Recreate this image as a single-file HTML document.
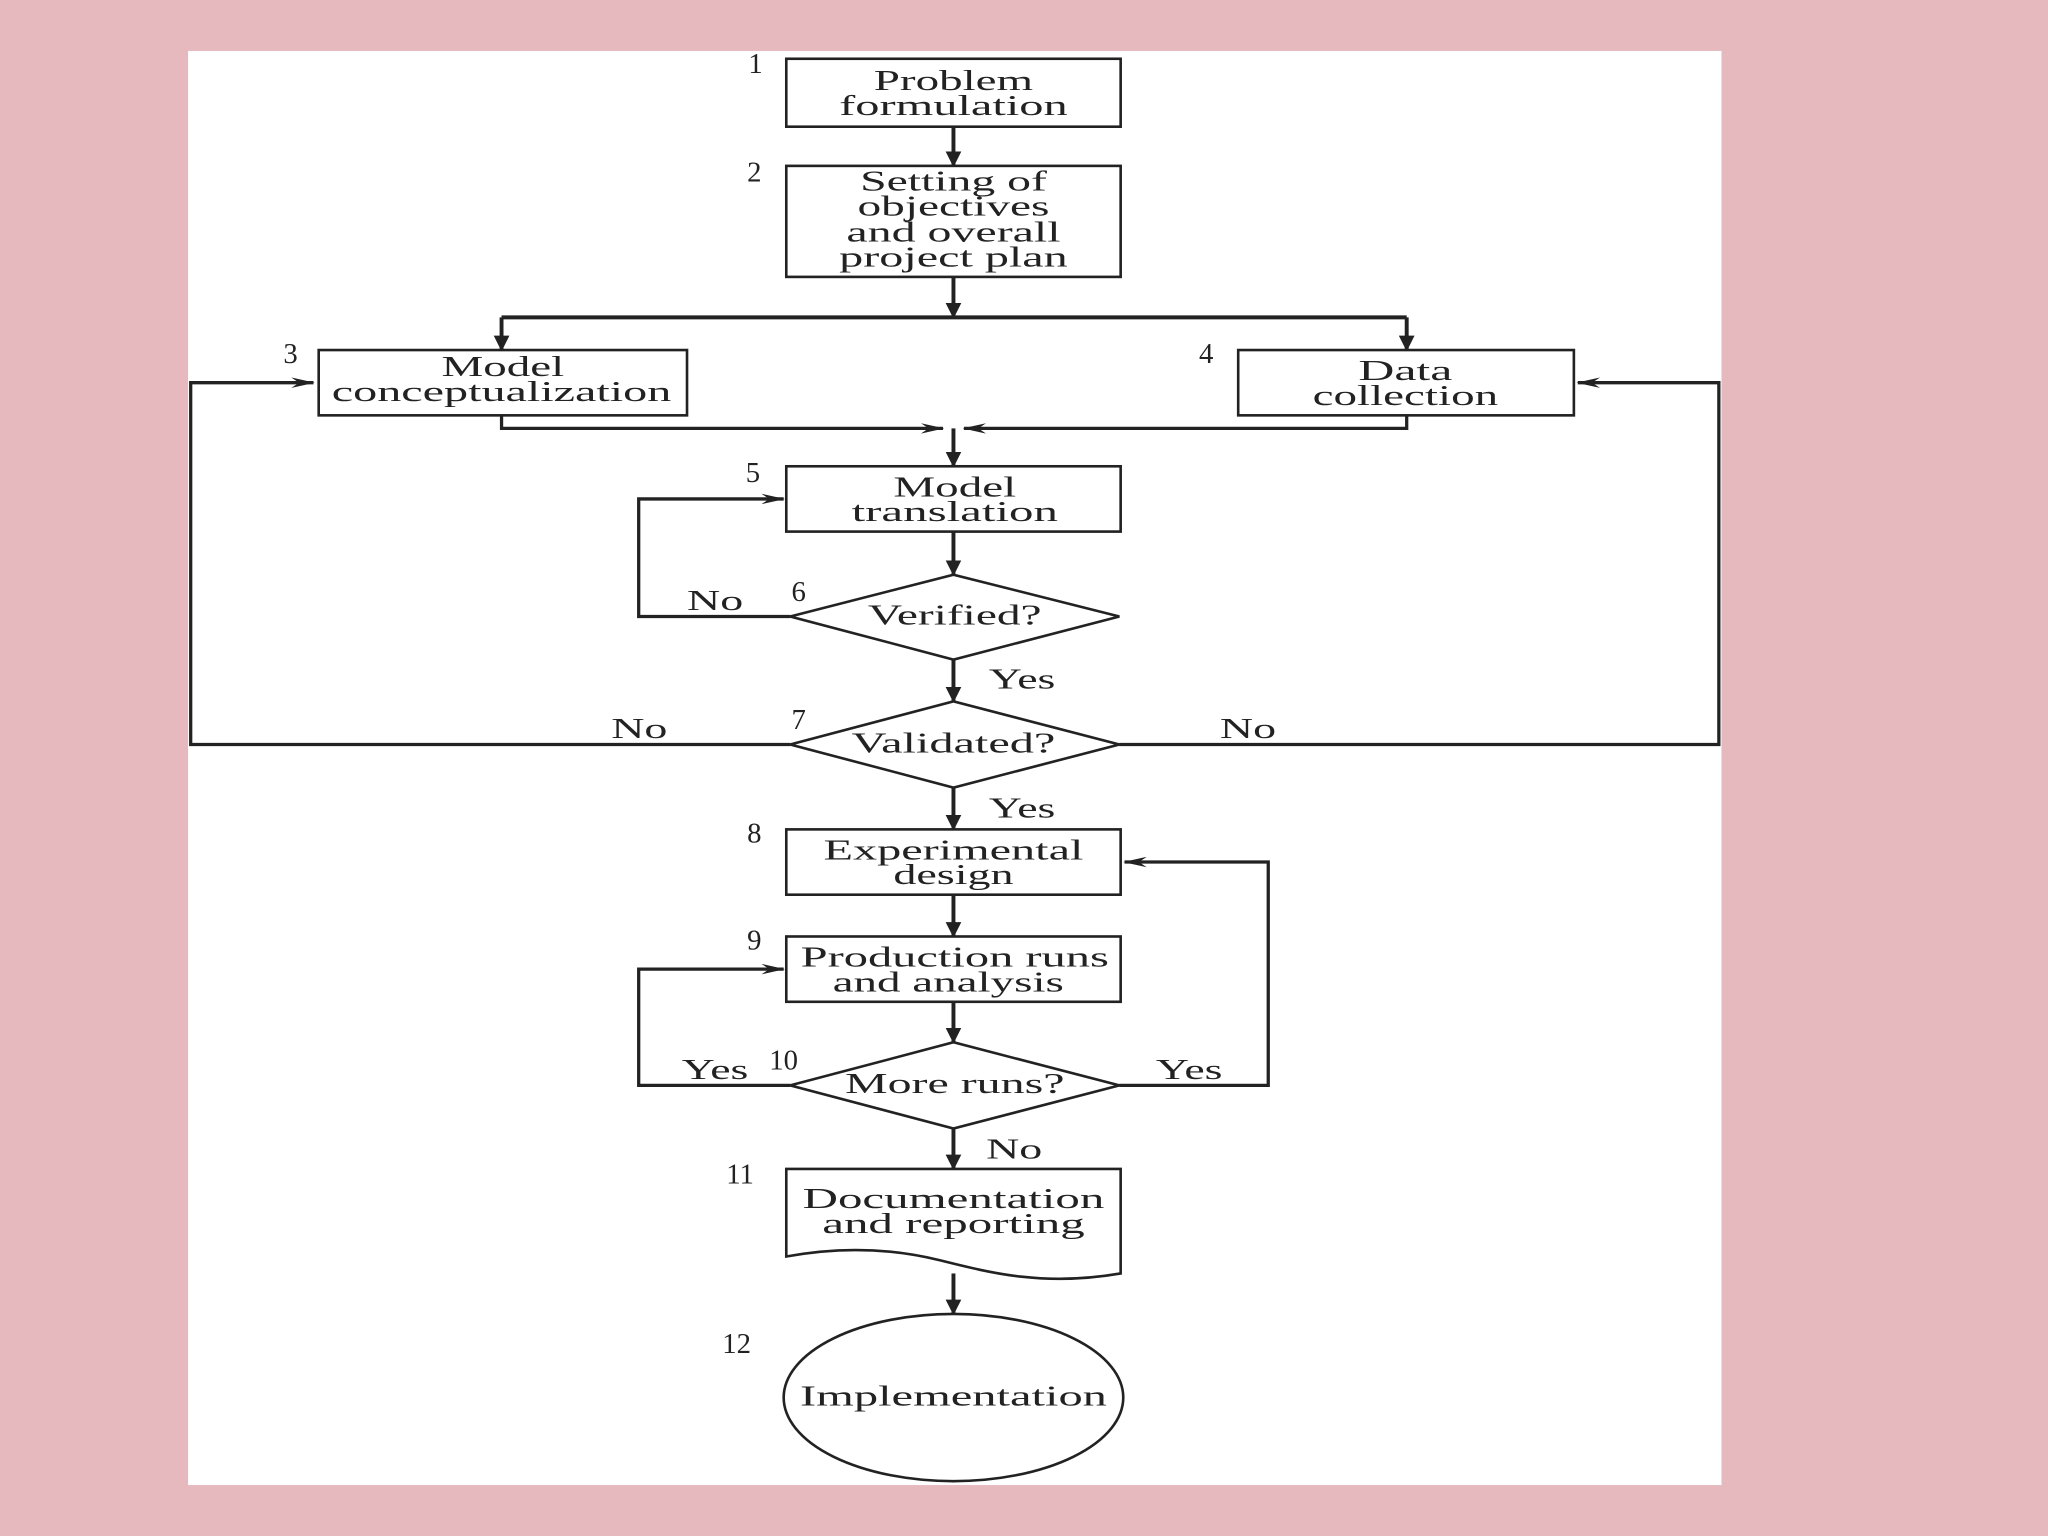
<!DOCTYPE html>
<html><head><meta charset="utf-8"><style>
html,body{margin:0;padding:0;background:#e6b9bf;}
svg{display:block}
text{font-family:"Liberation Serif",serif;font-size:22px;fill:#222;}
.t{text-anchor:middle}
</style></head><body>
<svg width="2048" height="1536" viewBox="0 0 1568 1176" xmlns="http://www.w3.org/2000/svg">
<defs>
<marker id="a" markerWidth="12" markerHeight="12" refX="11" refY="6" orient="auto" markerUnits="userSpaceOnUse"><path d="M0,0 L12,6 L0,12 z" fill="#222"/></marker>
<marker id="s" markerWidth="18" markerHeight="8" refX="17" refY="4" orient="auto" markerUnits="userSpaceOnUse"><path d="M0,0 L18,4 L0,8 L6,4 z" fill="#222"/></marker>
</defs>
<rect x="0" y="0" width="1568" height="1176" fill="#e6b9bf"/>
<rect x="144" y="39" width="1174" height="1098" fill="#fff"/>
<g stroke="#222" stroke-width="2" fill="none">
<rect x="602" y="45" width="256" height="52"/>
<rect x="602" y="127" width="256" height="85"/>
<rect x="244" y="268" width="282" height="50"/>
<rect x="948" y="268" width="257" height="50"/>
<rect x="602" y="357" width="256" height="50"/>
<path d="M605,472 L730,440 L857,472 L730,505 Z"/>
<path d="M605,570 L730,537 L857,570 L730,603 Z"/>
<rect x="602" y="635" width="256" height="50"/>
<rect x="602" y="717" width="256" height="50"/>
<path d="M605,831 L730,798 L857,831 L730,864 Z"/>
<path d="M602,895 L858,895 L858,975 C800,985 760,975 720,965 C680,955 640,955 602,962 Z"/>
<ellipse cx="730" cy="1070" rx="130" ry="64"/>
</g>
<g stroke="#222" stroke-width="3" fill="none" marker-end="url(#a)">
<path d="M730,97 V127"/>
<path d="M730,212 V243"/>
<path d="M384,243 V268"/>
<path d="M1077,243 V268"/>
<path d="M730,328 V357"/>
<path d="M730,407 V440"/>
<path d="M730,505 V537"/>
<path d="M730,603 V635"/>
<path d="M730,685 V717"/>
<path d="M730,767 V798"/>
<path d="M730,864 V895"/>
<path d="M730,975 V1006"/>
</g>
<g stroke="#222" stroke-width="3" fill="none">
<path d="M384,243 H1077"/>
</g>
<g stroke="#222" stroke-width="2.5" fill="none" marker-end="url(#s)">
<path d="M384,318 V328 H722"/>
<path d="M1077,318 V328 H738"/>
<path d="M605,472 H489 V382 H600"/>
<path d="M605,570 H146 V293 H240"/>
<path d="M857,570 H1316 V293 H1208"/>
<path d="M605,831 H489 V742 H600"/>
<path d="M857,831 H971 V660 H861"/>
</g>
<g lengthAdjust="spacingAndGlyphs">
<text class="t" x="730" y="69" textLength="122" lengthAdjust="spacingAndGlyphs">Problem</text>
<text class="t" x="730" y="88" textLength="175" lengthAdjust="spacingAndGlyphs">formulation</text>
<text class="t" x="730" y="146" textLength="143" lengthAdjust="spacingAndGlyphs">Setting of</text>
<text class="t" x="730" y="165" textLength="147" lengthAdjust="spacingAndGlyphs">objectives</text>
<text class="t" x="730" y="185" textLength="164" lengthAdjust="spacingAndGlyphs">and overall</text>
<text class="t" x="730" y="204" textLength="175" lengthAdjust="spacingAndGlyphs">project plan</text>
<text class="t" x="385" y="288" textLength="94" lengthAdjust="spacingAndGlyphs">Model</text>
<text class="t" x="384" y="307" textLength="260" lengthAdjust="spacingAndGlyphs">conceptualization</text>
<text class="t" x="1076" y="291" textLength="72" lengthAdjust="spacingAndGlyphs">Data</text>
<text class="t" x="1076" y="310" textLength="142" lengthAdjust="spacingAndGlyphs">collection</text>
<text class="t" x="731" y="380" textLength="94" lengthAdjust="spacingAndGlyphs">Model</text>
<text class="t" x="731" y="399" textLength="158" lengthAdjust="spacingAndGlyphs">translation</text>
<text class="t" x="731" y="478" textLength="133" lengthAdjust="spacingAndGlyphs">Verified?</text>
<text class="t" x="730" y="576" textLength="156" lengthAdjust="spacingAndGlyphs">Validated?</text>
<text class="t" x="730" y="658" textLength="199" lengthAdjust="spacingAndGlyphs">Experimental</text>
<text class="t" x="730" y="677" textLength="92" lengthAdjust="spacingAndGlyphs">design</text>
<text class="t" x="731" y="740" textLength="236" lengthAdjust="spacingAndGlyphs">Production runs</text>
<text class="t" x="726" y="759" textLength="177" lengthAdjust="spacingAndGlyphs">and analysis</text>
<text class="t" x="731" y="837" textLength="168" lengthAdjust="spacingAndGlyphs">More runs?</text>
<text class="t" x="730" y="925" textLength="231" lengthAdjust="spacingAndGlyphs">Documentation</text>
<text class="t" x="730" y="944" textLength="201" lengthAdjust="spacingAndGlyphs">and reporting</text>
<text class="t" x="730" y="1076" textLength="235" lengthAdjust="spacingAndGlyphs">Implementation</text>
</g>
<g>
<text x="573" y="56" font-size="18">1</text>
<text x="572" y="139">2</text>
<text x="217" y="278">3</text>
<text x="918" y="278">4</text>
<text x="571" y="369">5</text>
<text x="606" y="460">6</text>
<text x="606" y="558">7</text>
<text x="572" y="645">8</text>
<text x="572" y="727">9</text>
<text x="589" y="819">10</text>
<text x="556" y="906">11</text>
<text x="553" y="1036">12</text>
<text x="526" y="467" textLength="43" lengthAdjust="spacingAndGlyphs">No</text>
<text x="757" y="527" textLength="51" lengthAdjust="spacingAndGlyphs">Yes</text>
<text x="468" y="565" textLength="43" lengthAdjust="spacingAndGlyphs">No</text>
<text x="934" y="565" textLength="43" lengthAdjust="spacingAndGlyphs">No</text>
<text x="757" y="626" textLength="51" lengthAdjust="spacingAndGlyphs">Yes</text>
<text x="522" y="826" textLength="51" lengthAdjust="spacingAndGlyphs">Yes</text>
<text x="885" y="826" textLength="51" lengthAdjust="spacingAndGlyphs">Yes</text>
<text x="755" y="887" textLength="43" lengthAdjust="spacingAndGlyphs">No</text>
</g>
</svg>
</body></html>
